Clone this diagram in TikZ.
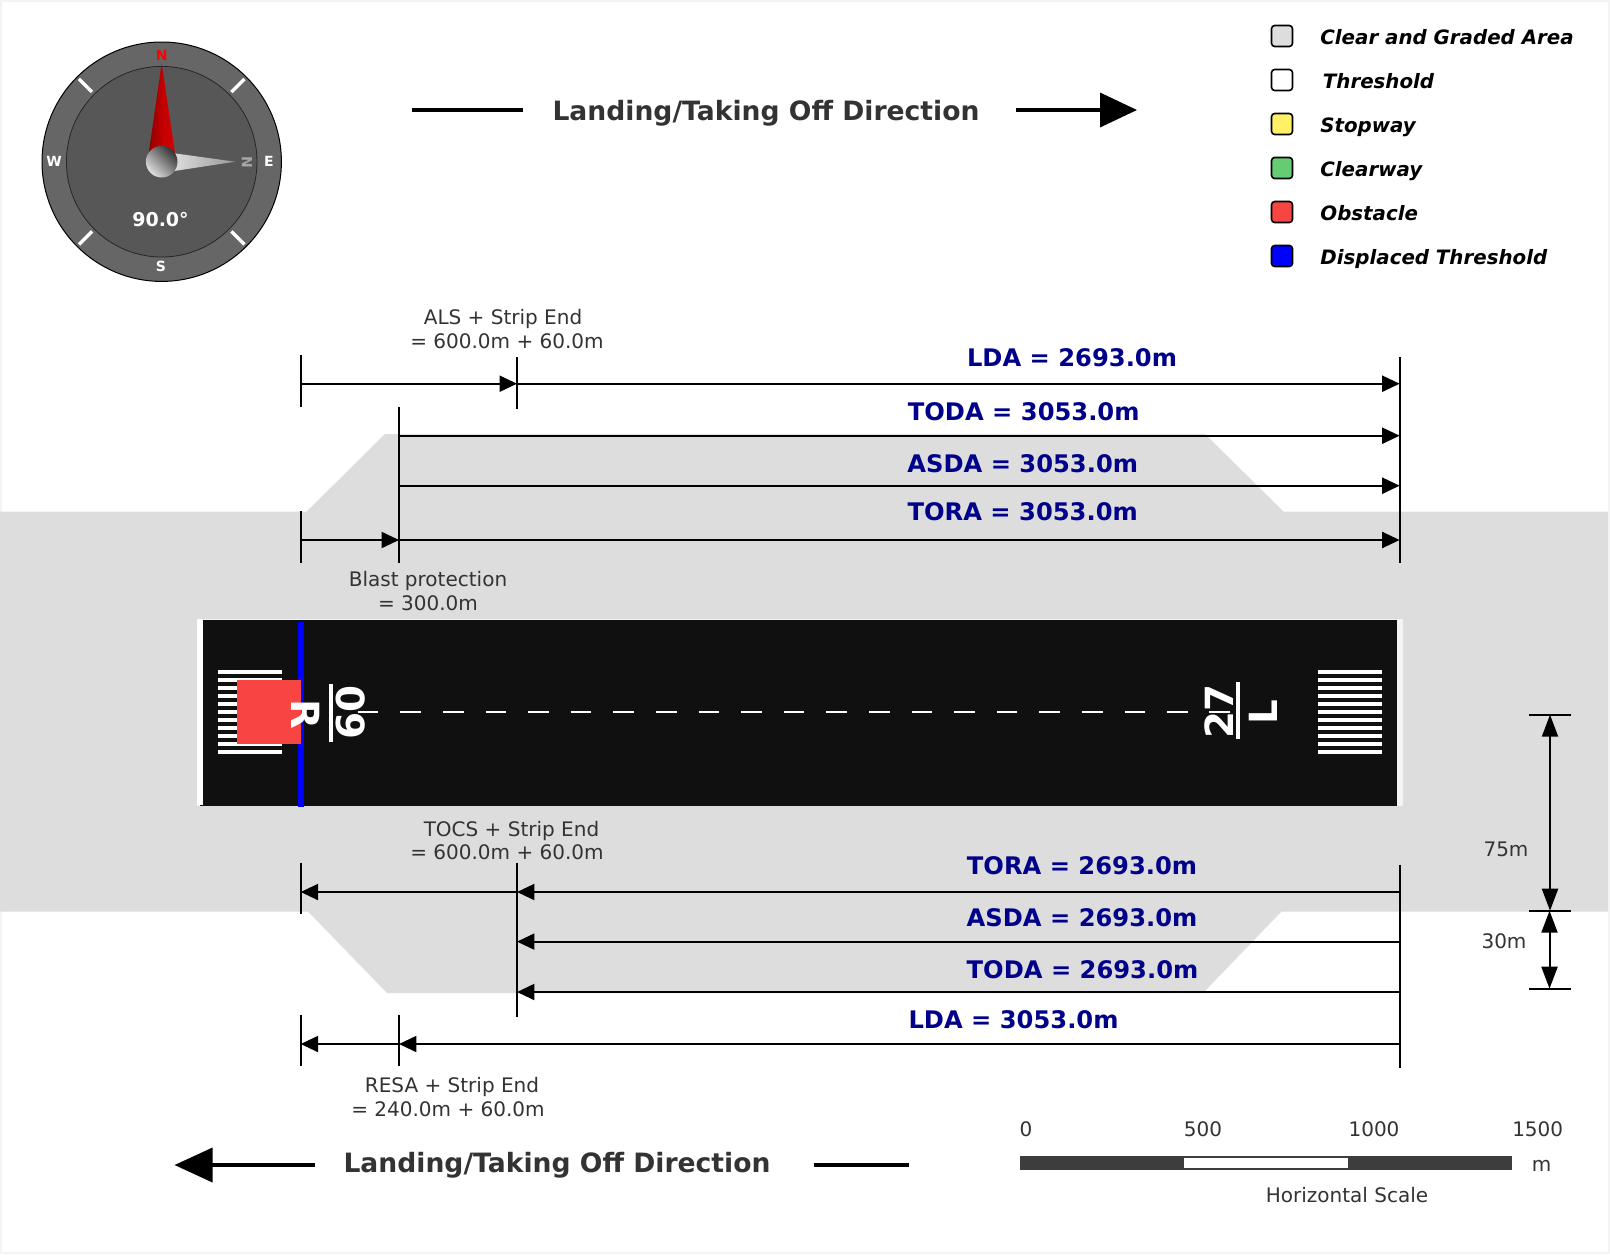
\documentclass[tikz,border=0pt]{standalone}
\usepackage[usenames,dvipsnames,svgnames,table]{xcolor}
\usepackage{fontspec}
\setmainfont{DejaVu Sans}
\usepackage{tikz}
\usetikzlibrary{arrows.meta,calc}
\definecolor{frameclr}{HTML}{F4F4F4}
\definecolor{gradedclr}{HTML}{DDDDDD}
\definecolor{runwayclr}{HTML}{101010}
\definecolor{obstacleclr}{HTML}{F94444}
\definecolor{stopclr}{HTML}{FFF066}
\definecolor{clearclr}{HTML}{66CC73}
\definecolor{valclr}{HTML}{00008B}
\definecolor{noteclr}{HTML}{333333}

\begin{document}
\begin{tikzpicture}[x=0.5pt, y=-0.5pt, >={Triangle[length=8.7pt,width=8pt]},
	dimline/.style={draw=black, line width=1pt},
	tickline/.style={draw=black, line width=1pt},
	tall/.style={dimline, >={Triangle[length=11pt,width=8pt]}},
	big/.style={draw=black, line width=1.8pt},
	val/.style={text=valclr, font=\fontsize{12.1}{14}\selectfont\bfseries, inner sep=0pt},
	note/.style={text=noteclr, font=\fontsize{10}{12}\selectfont, inner sep=0pt},
	dirtxt/.style={text=noteclr, font=\fontsize{13.3}{16}\selectfont\bfseries, inner sep=0pt},
	legtxt/.style={text=black, anchor=base west, font=\fontsize{9.9}{12}\selectfont\bfseries\itshape, inner sep=0pt},
	swatch/.style={draw=black, line width=0.8pt, rounded corners=1.6pt, minimum size=10.5pt, inner sep=0pt},
	cmp/.style={text=white, font=\fontsize{7}{8}\selectfont\bfseries, inner sep=0pt},
	rwymark/.style={text=white, font=\fontsize{19.4}{20}\selectfont\bfseries, inner sep=0pt},
	stripe/.style={fill=white, minimum width=32pt, minimum height=2pt, inner sep=0pt}]

	\useasboundingbox (0,0) rectangle (1610,1254);
	\fill[frameclr] (0,0) rectangle (1610,1254);
	\fill[white] (2,2) rectangle (1608,1252);

	% graded area
	\fill[gradedclr] (0,511.5) -- (306.7,511.5) -- (385,434) -- (1205,434) -- (1283.5,511.5) -- (1608,511.5)
		-- (1608,911.5) -- (1281.5,911.5) -- (1203,993) -- (387,993) -- (308,911.5) -- (0,911.5) -- cycle;

	% runway
	\fill[frameclr] (197,619) rectangle (1403,806);
	\fill[white] (197,619) rectangle (203,805);
	\fill[runwayclr] (203,620) rectangle (1397,806);
	\fill[runwayclr] (200,805) rectangle (204,806);
	\foreach \i in {0,...,10} {
		\node[stripe] (pianoL\i) at (250,672+8*\i) {};
		\node[stripe] (pianoR\i) at (1350,672+8*\i) {};
	}
	\coordinate (clA) at (357.7,712);
	\coordinate (clB) at (1188,712);
	\path[draw=white, line width=1pt, dash pattern=on 10.3pt off 11pt] (clA) -- (clB);
	\fill[blue] (297.7,621.7) rectangle (303.7,806.7);
	\fill[obstacleclr] (237,680) rectangle (300.7,744);

	\node[rwymark, rotate=-90] (num09) at (350.7,712.7) {09};
	\node[rwymark, rotate=-90] (sideR) at (305.3,714) {R};
	\node[rwymark, rotate=90] (num27) at (1219.5,711) {27};
	\node[rwymark, rotate=90] (sideL) at (1263.5,712) {L};
	\coordinate (barAt) at (330.7,684);
	\coordinate (barAb) at (330.7,741.7);
	\coordinate (barBt) at (1238,682.3);
	\coordinate (barBb) at (1238,739.3);
	\path[draw=white, line width=2pt] (barAt) -- (barAb) (barBt) -- (barBb);
	\coordinate (clC) at (1209.3,712);
	\coordinate (clD) at (1230,712);
	\path[draw=white, line width=1pt] (clC) -- (clD);
	\coordinate (clE) at (357.7,712);
	\coordinate (clF) at (378,712);
	\path[draw=white, line width=1pt] (clE) -- (clF);

	% compass
	\coordinate (cmpC) at (161.7,161.7);
	\fill[draw=black, line width=0.5pt, fill=black!60] (cmpC) circle (119.7);
	\fill[black!66] (cmpC) circle (95.3);
	\draw[black!85, line width=0.4pt] (cmpC) circle (95.3);
	\foreach \a in {45,135,225,315} {
		\draw[white, line width=1.7pt] ($(cmpC)+(\a:98.6)$) -- ($(cmpC)+(\a:117)$);
	}
	\shade[left color=red!55!black, right color=red!85!black, middle color=red!75!black]
		(148,158) -- (161.7,63.3) -- (175.7,158) -- cycle;
	\shade[left color=black!12, right color=black!40]
		(170,152.7) -- (235,161.7) -- (170,171.7) -- cycle;
	\shade[left color=black!80, right color=black!12, shading angle=-45] (cmpC) circle (15.8);
	\node[cmp, text=red] (cmpN) at (161.7,55) {N};
	\node[cmp] (cmpW) at (54,161) {W};
	\node[cmp] (cmpE) at (269,161) {E};
	\node[cmp] (cmpS) at (161,266) {S};
	\node[cmp, text=black!35, rotate=-90] (cmpNeedle) at (247,162) {N};
	\node[cmp, font=\fontsize{9.5}{12}\selectfont\bfseries] (cmpDeg) at (160.5,219.5) {90.0°};

	% legend
	\foreach \i/\y/\clr/\dx/\txt in {1/36/gradedclr/0/Clear and Graded Area, 2/80/white/2.5/Threshold, 3/124/stopclr/0/Stopway,
		4/168/clearclr/0/Clearway, 5/212/obstacleclr/0/Obstacle, 6/256/blue/0/Displaced Threshold} {
		\node[swatch, fill=\clr] (leg\i) at (1282,\y) {};
		\node[legtxt] (legt\i) at (1320+\dx,\y+8.4) {\txt};
	}

	% direction arrows
	\node[dirtxt] (dirTop) at (766,113) {Landing/Taking Off Direction};
	\coordinate (dirTa) at (412,110);
	\coordinate (dirTb) at (523,110);
	\coordinate (dirTc) at (1015.5,110);
	\coordinate (dirTd) at (1137,110);
	\path[big] (dirTa) -- (dirTb);
	\draw[big, -{Triangle[length=18.5pt,width=17pt]}] (dirTc) -- (dirTd);
	\node[dirtxt] (dirBot) at (557,1165) {Landing/Taking Off Direction};
	\coordinate (dirBa) at (315,1165);
	\coordinate (dirBb) at (174.5,1165);
	\coordinate (dirBc) at (814,1165);
	\coordinate (dirBd) at (909,1165);
	\draw[big, -{Triangle[length=19pt,width=17pt]}] (dirBa) -- (dirBb);
	\path[big] (dirBc) -- (dirBd);

	% upper distances
	\coordinate (upT) at (300.7,355);
	\coordinate (upB) at (300.7,407);
	\coordinate (upM) at (517,383.7);
	\coordinate (upL) at (300.7,383.7);
	\coordinate (upMt) at (517,357);
	\coordinate (upMb) at (517,409);
	\coordinate (upRt) at (1399.6,357);
	\coordinate (upRb) at (1399.6,562.7);
	\coordinate (upR) at (1399.6,383.7);
	\coordinate (thrT) at (399,407);
	\coordinate (thrB) at (399,562.7);
	\coordinate (todaL) at (399,435.7);
	\coordinate (todaR) at (1399.6,435.7);
	\coordinate (asdaL) at (399,485.7);
	\coordinate (asdaR) at (1399.6,485.7);
	\coordinate (toraA) at (300.7,540);
	\coordinate (toraL) at (399,540);
	\coordinate (toraR) at (1399.6,540);
	\coordinate (blastT) at (300.7,511);
	\coordinate (blastB) at (300.7,562.7);
	\path[tickline] (upT) -- (upB) (upMt) -- (upMb) (upRt) -- (upRb) (thrT) -- (thrB) (blastT) -- (blastB);
	\path[->, line width=1pt]	(upL) edge (upM)
			(upM) edge (upR)
			(todaL) edge (todaR)
			(asdaL) edge (asdaR)
			(toraA) edge (toraL)
			(toraL) edge (toraR);

	\node[val] (ldaUp) at (1072,358) {LDA = 2693.0m};
	\node[val] (todaUp) at (1023.7,411.7) {TODA = 3053.0m};
	\node[val] (asdaUp) at (1022.7,464) {ASDA = 3053.0m};
	\node[val] (toraUp) at (1022.7,512) {TORA = 3053.0m};
	\node[note] (alsA) at (503,319) {ALS + Strip End};
	\node[note] (alsV) at (507,341) {= 600.0m + 60.0m};
	\node[note] (blastA) at (428,581) {Blast protection};
	\node[note] (blastV) at (428,603) {= 300.0m};

	% lower distances
	\coordinate (loT) at (300.7,862.5);
	\coordinate (loB) at (300.7,914);
	\coordinate (loMt) at (517,862.5);
	\coordinate (loMb) at (517,1016.5);
	\coordinate (loRt) at (1399.6,864.5);
	\coordinate (loRb) at (1399.6,1068);
	\coordinate (resaT) at (300.7,1014.5);
	\coordinate (resaB) at (300.7,1066);
	\coordinate (thrC) at (399,1014.5);
	\coordinate (thrD) at (399,1066);
	\coordinate (tora2R) at (1399.6,892);
	\coordinate (tora2M) at (517,892);
	\coordinate (tora2L) at (300.7,892);
	\coordinate (asda2R) at (1399.6,941.6);
	\coordinate (asda2L) at (517,941.6);
	\coordinate (toda2R) at (1399.6,992);
	\coordinate (toda2L) at (517,992);
	\coordinate (lda2R) at (1399.6,1044);
	\coordinate (lda2M) at (399,1044);
	\coordinate (lda2L) at (300.7,1044);
	\path[tickline] (loT) -- (loB) (loMt) -- (loMb) (loRt) -- (loRb) (resaT) -- (resaB) (thrC) -- (thrD);
	\path[->, line width=1pt]	(tora2R) edge (tora2M)
			(tora2M) edge (tora2L)
			(asda2R) edge (asda2L)
			(toda2R) edge (toda2L)
			(lda2R) edge (lda2M)
			(lda2M) edge (lda2L);

	\node[val] (toraLo) at (1082,865.6) {TORA = 2693.0m};
	\node[val] (asdaLo) at (1082,918) {ASDA = 2693.0m};
	\node[val] (todaLo) at (1082.5,970) {TODA = 2693.0m};
	\node[val] (ldaLo) at (1013.5,1019.6) {LDA = 3053.0m};
	\node[note] (tocsA) at (511.5,830.6) {TOCS + Strip End};
	\node[note] (tocsV) at (507,852) {= 600.0m + 60.0m};
	\node[note] (resaA) at (452,1087) {RESA + Strip End};
	\node[note] (resaV) at (448,1109) {= 240.0m + 60.0m};

	% vertical widths
	\coordinate (wTa) at (1529,714.7);
	\coordinate (wTb) at (1571,714.7);
	\coordinate (wMa) at (1529,910.7);
	\coordinate (wMb) at (1571,910.7);
	\coordinate (wBa) at (1529,988.7);
	\coordinate (wBb) at (1571,988.7);
	\coordinate (wUp) at (1550,714.7);
	\coordinate (wMid) at (1550,910.7);
	\coordinate (wMidB) at (1549.5,910.7);
	\coordinate (wLow) at (1549.5,988.7);
	\path[tickline] (wTa) -- (wTb) (wMa) -- (wMb) (wBa) -- (wBb);
	\draw[tall,<->] (wUp) -- (wMid);
	\draw[tall,<->] (wMidB) -- (wLow);
	\node[note] (w75) at (1506,849) {75m};
	\node[note] (w30) at (1504,941) {30m};

	% scale
	\fill[black!76] (1020,1156) rectangle (1512,1170);
	\fill[white] (1184,1158) rectangle (1348,1168);
	\node[note] (sc0) at (1026,1129) {0};
	\node[note] (sc500) at (1203,1129) {500};
	\node[note] (sc1000) at (1374,1129) {1000};
	\node[note] (sc1500) at (1537.7,1129) {1500};
	\node[note] (scM) at (1541.5,1166) {m};
	\node[note] (scName) at (1347,1195) {Horizontal Scale};
\end{tikzpicture}
\end{document}
